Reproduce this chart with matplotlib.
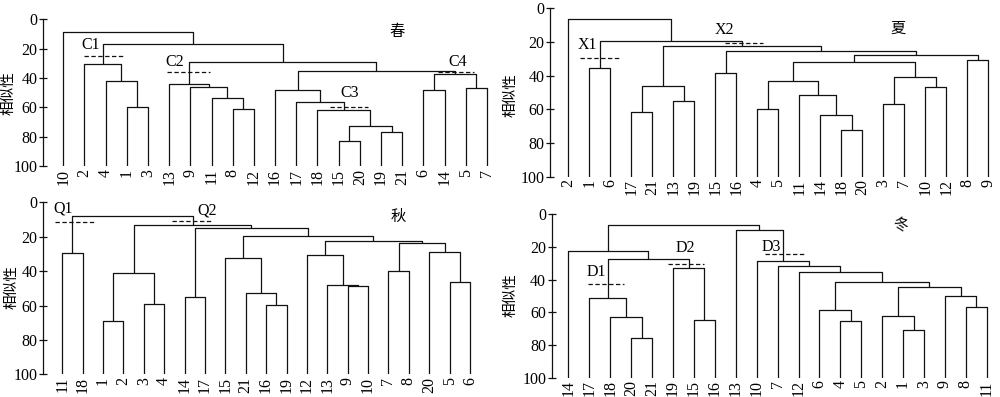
import matplotlib
matplotlib.use("Agg")
import matplotlib.pyplot as plt

plt.rcParams['font.family'] = ['Liberation Serif', 'Noto Sans CJK SC', 'DejaVu Sans']

# ---------------- data ----------------
# trees: [similarity, left, right]; leaves are site numbers
spring_leaves = [10, 2, 4, 1, 3, 13, 9, 11, 8, 12, 16, 17, 18, 15, 20, 19, 21, 6, 14, 5, 7]
spring_tree = [8.4, 10,
               [17, [30.7, 2, [42, 4, [60, 1, 3]]],
                [29, [44.3, 13, [46.4, 9, [53.9, 11, [61.4, 8, 12]]]],
                 [35, [48.2, 16, [56.6, 17, [61.8, 18, [73, [83, 15, 20], [76.6, 19, 21]]]]],
                  [37.5, [48, 6, 14], [47, 5, 7]]]]]]

summer_leaves = [2, 1, 6, 17, 21, 13, 19, 15, 16, 4, 5, 11, 14, 18, 20, 3, 7, 10, 12, 8, 9]
summer_tree = [6.3, 2,
               [19.2, [35.6, 1, 6],
                [22.6, [46.3, [61.8, 17, 21], [55.2, 13, 19]],
                 [25.3, [38.2, 15, 16],
                  [27.7, [32, [43.2, [59.8, 4, 5], [51.7, 11, [63.2, 14, [72.5, 18, 20]]]],
                          [41, [56.6, 3, 7], [46.5, 10, 12]]],
                   [30.9, 8, 9]]]]]]

autumn_leaves = [11, 18, 1, 2, 3, 4, 14, 17, 15, 21, 16, 19, 12, 13, 9, 10, 7, 8, 20, 5, 6]
autumn_tree = [7.75, [29.3, 11, 18],
               [13.2, [41.1, [68.8, 1, 2], [59.3, 3, 4]],
                [14.7, [54.8, 14, 17],
                 [19.4, [32.4, 15, [52.9, 21, [59.5, 16, 19]]],
                  [22.3, [30.4, 12, [47.9, 13, [48.8, 9, 10]]],
                   [23.4, [39.9, 7, 8], [28.7, 20, [46.1, 5, 6]]]]]]]]

winter_leaves = [14, 17, 18, 20, 21, 19, 15, 16, 13, 10, 7, 12, 6, 4, 5, 2, 1, 3, 9, 8, 11]
winter_tree = [6.7, [22.7, 14, [27.6, [51.4, 17, [62.7, 18, [75.5, 20, 21]]], [32.9, 19, [64.9, 15, 16]]]],
               [9.8, 13, [28.4, 10, [31.6, 7, [35.5, 12,
                 [41.6, [58.8, 6, [65.5, 4, 5]],
                  [44.3, [62, 2, [70.6, 1, 3]], [50, 9, [56.9, 8, 11]]]]]]]]]

# group cut lines: (label, label_x, label_y, cut_y, x0, x1)
spring_groups = [("C1", 1.29, 17.5, 24.8, 1.0, 2.87), ("C2", 5.28, 29.3, 36, 4.88, 6.93),
                 ("C3", 13.5, 50.5, 59.5, 12.57, 14.4), ("C4", 18.6, 29.3, 36, 17.7, 19.4)]
summer_groups = [("X1", 0.9, 21.8, 29.7, 0.56, 2.46), ("X2", 7.43, 12.9, 20.6, 7.46, 9.25)]
autumn_groups = [("Q1", 0.05, 3.5, 11.2, -0.36, 1.55), ("Q2", 7.1, 4.5, 10.9, 5.36, 7.28)]
winter_groups = [("D1", 1.32, 35.1, 42.4, 0.92, 2.68), ("D2", 5.6, 20.8, 30.4, 4.78, 6.49),
                 ("D3", 9.7, 20.2, 24.5, 9.4, 11.27)]

season_titles = ["春", "夏", "秋", "冬"]
title_pos = [(15.75, 8.4), (15.7, 11.9), (16.5, 8.3), (15.86, 6.5)]
title_rot = [0, 0, 0, -15]
yticks = [0, 20, 40, 60, 80, 100]

# ---------------- layout ----------------
W, H = 1000, 397
fig = plt.figure(figsize=(W / 100, H / 100), dpi=100)

def px_axes(left, right, top, bottom):
    return [left / W, 1 - bottom / H, (right - left) / W, (bottom - top) / H]

panels = [
    (px_axes(43.3, 497.6, 19.3, 166.0), (-0.94, 20.5), spring_leaves, spring_tree, spring_groups, (8, 93)),
    (px_axes(550.0, 998.8, 8.3, 176.7), (-0.87, 20.5), summer_leaves, summer_tree, summer_groups, (510, 95)),
    (px_axes(43.3, 480.2, 202.3, 374.3), (-0.93, 20.5), autumn_leaves, autumn_tree, autumn_groups, (11, 287)),
    (px_axes(551.7, 997.2, 214.3, 377.7), (-0.8, 20.5), winter_leaves, winter_tree, winter_groups, (510, 295)),
]

LC = '#111111'

def draw(ax, node, leaves):
    if isinstance(node, int):
        return leaves.index(node), 100
    h, l, r = node
    xl, yl = draw(ax, l, leaves)
    xr, yr = draw(ax, r, leaves)
    ax.plot([xl, xl, xr, xr], [yl, h, h, yr], color=LC, lw=0.9, solid_capstyle='butt')
    return (xl + xr) / 2, h

for i, (rect, xlim, leaves, tree, groups, lab) in enumerate(panels):
    ax = fig.add_axes(rect)
    draw(ax, tree, leaves)
    for name, lx, ly, cy, x0, x1 in groups:
        ax.plot([x0, x1], [cy, cy], color=LC, lw=0.9, ls=(0, (3.5, 2)))
        ax.text(lx, ly, name, ha='center', va='center', fontsize=11.5)
    tx, ty = title_pos[i]
    ax.text(tx, ty, season_titles[i], ha='center', va='center', fontsize=11,
            family=['Noto Sans CJK SC'], rotation=title_rot[i])
    ax.set_xlim(*xlim)
    ax.set_ylim(100, 0)
    for s in ['top', 'right', 'bottom']:
        ax.spines[s].set_visible(False)
    ax.spines['left'].set_linewidth(0.9)
    ax.spines['left'].set_color(LC)
    ax.set_yticks(yticks)
    ax.set_yticklabels([str(v) for v in yticks], fontsize=11.5)
    ax.tick_params(axis='y', direction='inout', length=6, width=0.9, pad=1, color=LC)
    ax.set_xticks(range(len(leaves)))
    ax.set_xticklabels([str(v) for v in leaves], rotation=90, fontsize=11.5)
    ax.tick_params(axis='x', length=0, pad=2)
    fig.text(lab[0] / W, 1 - lab[1] / H, "相似性", rotation=90, ha='center', va='center',
             fontsize=10.5, family=['Noto Sans CJK SC'])

fig.savefig("out.png", dpi=100)
